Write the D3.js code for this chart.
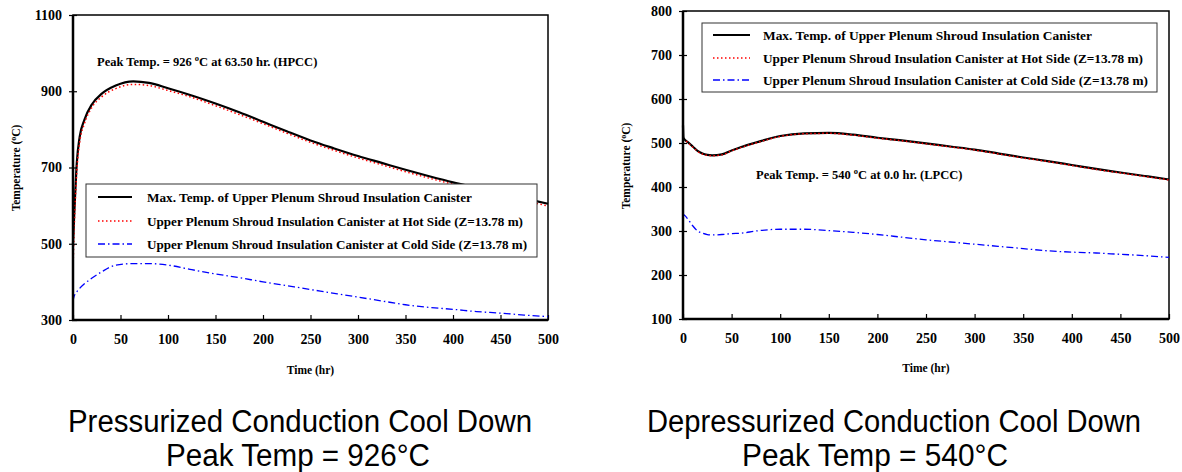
<!DOCTYPE html>
<html>
<head>
<meta charset="utf-8">
<script src="https://cdn.jsdelivr.net/npm/d3@7"></script>
<style>
  html, body { margin: 0; padding: 0; background: #fff; }
  svg { display: block; }
  .serif { font-family: "Liberation Serif", "Times New Roman", serif; font-weight: bold; }
  .caption { font-family: "Liberation Sans", Arial, sans-serif; }
</style>
</head>
<body>
<svg id="chart" width="1182" height="472"></svg>
<script>
// ---- Pressurized conduction cool down (HPCC) ----
const hpccTime = [0, 1, 2, 4, 7, 12, 20, 30, 45, 63.5, 80, 100, 125, 150, 175, 200, 225, 250, 275, 300, 325, 350, 375, 400, 425, 450, 475, 500];
const hpccMax  = [500, 560, 615, 712, 780, 825, 866, 893, 915, 926, 922, 908, 889, 868, 845, 820, 795, 771, 750, 730, 712, 694, 677, 661, 647, 633, 619, 605];
const hpccHot  = [430, 520, 590, 690, 765, 815, 858, 885, 907, 918, 915, 902, 884, 862, 839, 815, 790, 766, 745, 725, 707, 689, 672, 656, 641, 627, 613, 599];
const hpccCold = [350, 361, 367, 374, 383, 395, 410, 426, 444, 448, 448, 444, 432, 421, 411, 400, 390, 380, 370, 360, 350, 340, 333, 328, 322, 318, 313, 309];
const hpccTempTicks = [300, 500, 700, 900, 1100];

// ---- Depressurized conduction cool down (LPCC) ----
const lpccTime = [0, 0.5, 2, 5, 10, 15, 20, 25, 30, 40, 50, 60, 75, 100, 125, 150, 175, 200, 225, 250, 275, 300, 325, 350, 375, 400, 425, 450, 475, 500];
const lpccMax  = [540, 512, 507, 502, 492, 482, 476, 473, 472, 474, 483, 491, 501, 516, 522, 523, 519, 512, 506, 499, 492, 485, 476, 467, 459, 450, 441, 433, 425, 417];
const lpccHot  = [503, 505, 506, 501, 491, 481, 475, 472, 471, 473, 482, 490, 500, 515, 521, 522, 518, 511, 505, 498, 491, 484, 475, 466, 458, 449, 440, 432, 424, 416];
const lpccCold = [340, 338, 335, 327, 312, 300, 295, 292, 291, 292, 294, 295, 300, 304, 304, 301, 297, 292, 286, 280, 275, 270, 265, 260, 255, 252, 250, 247, 244, 240];
const lpccTempTicks = [100, 200, 300, 400, 500, 600, 700, 800];

const timeTicks = [0, 50, 100, 150, 200, 250, 300, 350, 400, 450, 500];

const legendLabels = [
  "Max. Temp. of Upper Plenum Shroud Insulation Canister",
  "Upper Plenum Shroud Insulation Canister at Hot Side (Z=13.78 m)",
  "Upper Plenum Shroud Insulation Canister at Cold Side (Z=13.78 m)"
];

const seriesStyles = [
  { stroke: "#000", width: 2.2, dash: null },
  { stroke: "#ff0000", width: 1.5, dash: "1.5,2.5" },
  { stroke: "#0000ff", width: 1.3, dash: "7,3,1.5,3" }
];

const svg = d3.select("#chart");

function drawPanel(cfg) {
  const g = svg.append("g");
  const x = d3.scaleLinear().domain([0, 500]).range([cfg.left, cfg.right]);
  const y = d3.scaleLinear().domain(cfg.yDomain).range([cfg.bottom, cfg.top]);

  // frame
  g.append("rect")
    .attr("x", cfg.left).attr("y", cfg.top)
    .attr("width", cfg.right - cfg.left).attr("height", cfg.bottom - cfg.top)
    .attr("fill", "none").attr("stroke", "#000").attr("stroke-width", 1.5);

  // series
  const line = d3.line()
    .x((d, i) => x(cfg.time[i]))
    .y(d => y(d))
    .curve(d3.curveMonotoneX);
  cfg.series.forEach((vals, k) => {
    const st = seriesStyles[k];
    g.append("path")
      .attr("d", line(vals))
      .attr("fill", "none")
      .attr("stroke", st.stroke)
      .attr("stroke-width", st.width)
      .attr("stroke-dasharray", st.dash)
      .attr("stroke-linejoin", "round");
  });

  // x axis
  const xAxis = g.append("g")
    .attr("transform", `translate(0,${cfg.bottom})`)
    .call(d3.axisBottom(x).tickValues(timeTicks).tickSize(-5).tickPadding(14).tickFormat(d3.format("d")));
  xAxis.select(".domain").remove();
  xAxis.selectAll("line").attr("stroke", "#000").attr("stroke-width", 1.2);
  xAxis.selectAll("text").attr("class", "serif").attr("font-size", 14).attr("fill", "#000");

  // y axis
  const yAxis = g.append("g")
    .attr("transform", `translate(${cfg.left},0)`)
    .call(d3.axisLeft(y).tickValues(cfg.yTicks).tickSize(4).tickPadding(7).tickFormat(d3.format("d")));
  yAxis.select(".domain").remove();
  yAxis.selectAll("line").attr("x1", 4).attr("stroke", "#000").attr("stroke-width", 1.2);
  yAxis.selectAll("text").attr("class", "serif").attr("font-size", 14).attr("fill", "#000");

  // heavier left and bottom axis lines
  g.append("line").attr("x1", cfg.left).attr("x2", cfg.left)
    .attr("y1", cfg.top).attr("y2", cfg.bottom + 1)
    .attr("stroke", "#000").attr("stroke-width", 2.5);
  g.append("line").attr("x1", cfg.left - 1).attr("x2", cfg.right)
    .attr("y1", cfg.bottom).attr("y2", cfg.bottom)
    .attr("stroke", "#000").attr("stroke-width", 2.5);

  // axis titles
  const yt = g.append("text").attr("class", "serif").attr("font-size", 11.5)
    .attr("text-anchor", "middle")
    .attr("transform", `translate(${cfg.yTitleX},${cfg.yTitleY}) rotate(-90)`);
  yt.append("tspan").text("Temperature (");
  yt.append("tspan").attr("font-size", 8).attr("dy", -4).text("o");
  yt.append("tspan").attr("dy", 4).text("C)");

  g.append("text").attr("class", "serif").attr("font-size", 11.5)
    .attr("text-anchor", "middle")
    .attr("x", (cfg.left + cfg.right) / 2).attr("y", cfg.xTitleY)
    .text("Time (hr)");

  // peak annotation
  const an = g.append("text").attr("class", "serif").attr("font-size", 12.5)
    .attr("x", cfg.note.x).attr("y", cfg.note.y);
  an.append("tspan").text(cfg.note.pre);
  an.append("tspan").attr("font-size", 8.5).attr("dy", -5).text("o");
  an.append("tspan").attr("dy", 5).text(cfg.note.post);

  // legend
  const lg = cfg.legend;
  g.append("rect").attr("x", lg.x).attr("y", lg.y)
    .attr("width", lg.w).attr("height", lg.h)
    .attr("fill", "#fff").attr("stroke", "#333").attr("stroke-width", 1);
  legendLabels.forEach((lab, k) => {
    const st = seriesStyles[k];
    const cy = lg.y + lg.rows[k];
    g.append("line")
      .attr("x1", lg.x + lg.sx0).attr("x2", lg.x + lg.sx1)
      .attr("y1", cy).attr("y2", cy)
      .attr("stroke", st.stroke)
      .attr("stroke-width", k === 0 ? 2 : 1.4)
      .attr("stroke-dasharray", st.dash);
    g.append("text").attr("class", "serif").attr("font-size", 12.5)
      .attr("x", lg.x + lg.tx).attr("y", cy + 4.5)
      .attr("textLength", lg.tw[k]).attr("lengthAdjust", "spacingAndGlyphs")
      .text(lab);
  });

  // caption beneath the panel
  cfg.caption.forEach(c => {
    svg.append("text").attr("class", "caption")
      .attr("font-size", 31).attr("fill", "#000")
      .attr("text-anchor", "middle")
      .attr("x", c.x).attr("y", c.y)
      .attr("textLength", c.w).attr("lengthAdjust", "spacingAndGlyphs")
      .text(c.text);
  });
}

drawPanel({
  left: 73, right: 548, top: 15, bottom: 320,
  yDomain: [300, 1100], yTicks: hpccTempTicks,
  time: hpccTime, series: [hpccMax, hpccHot, hpccCold],
  yTitleX: 20, yTitleY: 168, xTitleY: 374,
  note: { x: 97, y: 66, pre: "Peak Temp. = 926 ", post: "C at 63.50 hr. (HPCC)" },
  legend: { x: 86, y: 184, w: 451, h: 73, rows: [13, 37, 60], sx0: 12, sx1: 46, tx: 61, tw: [325, 376, 380] },
  caption: [
    { text: "Pressurized Conduction Cool Down", x: 300, y: 432, w: 464 },
    { text: "Peak Temp = 926°C", x: 298, y: 466, w: 264 }
  ]
});

drawPanel({
  left: 683, right: 1169, top: 11, bottom: 319,
  yDomain: [100, 800], yTicks: lpccTempTicks,
  time: lpccTime, series: [lpccMax, lpccHot, lpccCold],
  yTitleX: 630, yTitleY: 166, xTitleY: 372,
  note: { x: 756, y: 179, pre: "Peak Temp. = 540 ", post: "C at 0.0 hr. (LPCC)" },
  legend: { x: 702, y: 23, w: 455, h: 69, rows: [12, 35, 57], sx0: 11, sx1: 48, tx: 61, tw: [329, 380, 385] },
  caption: [
    { text: "Depressurized Conduction Cool Down", x: 894, y: 432, w: 494 },
    { text: "Peak Temp = 540°C", x: 875, y: 466, w: 266 }
  ]
});
</script>
</body>
</html>
